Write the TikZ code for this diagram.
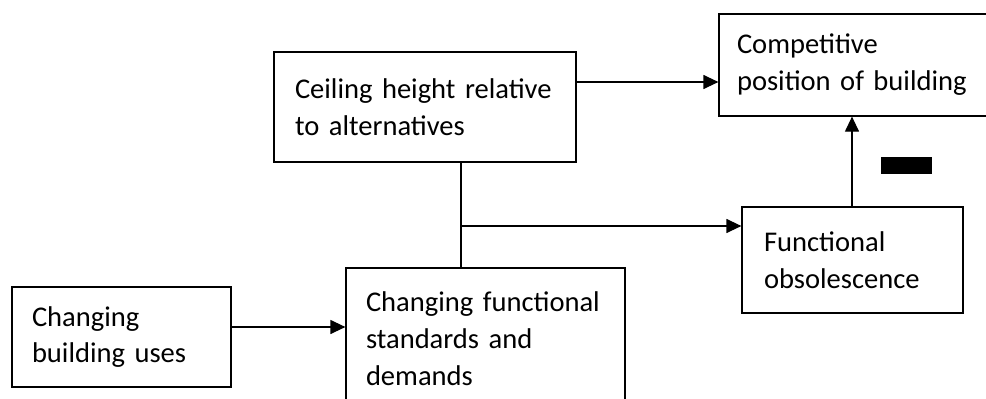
\documentclass[tikz,border=0pt]{standalone}
\usepackage{fontspec}
\setmainfont{Carlito}
\usepackage{tikz}
\usetikzlibrary{arrows.meta,positioning}

\tikzset{
  card/.style={draw=black,line width=0.7pt,align=left,inner ysep=0pt,
               font=\fontsize{16.25}{21}\selectfont},
  link/.style={line width=0.7pt,-{Triangle[length=0.3cm,width=0.28cm]}},
  plain/.style={line width=0.7pt}
}

\begin{document}
\begin{tikzpicture}
      \useasboundingbox (0,0) rectangle (19.72,7.96);
      \node[card,text width=5.20cm,inner xsep=0.42cm,minimum height=2.2cm] (ceil) at (8.50,5.82)
        {Ceiling height relative\\to alternatives};
      \node[card,text width=4.90cm,inner xsep=0.36cm,minimum height=2.04cm] (comp) at (17.19,6.66)
        {Competitive\\position of building};
      \node[card,text width=3.54cm,inner xsep=0.44cm,minimum height=2.12cm] (func) at (17.05,2.76)
        {Functional\\obsolescence};
      \node[card,text width=4.78cm,inner xsep=0.40cm,minimum height=2.84cm] (chstd) at (9.71,1.18)
        {Changing functional\\standards and\\demands};
      \node[card,text width=3.58cm,inner xsep=0.40cm,minimum height=2.0cm] (chuse) at (2.43,1.22)
        {Changing\\building uses};
      \node[fill=black,minimum width=1.02cm,minimum height=0.34cm,inner sep=0pt] (minus) at (18.13,4.65) {};
      \coordinate (jn) at (9.22,3.44);

      \draw[link] ([yshift=0.5cm]ceil.east) -- ([yshift=0.5cm]ceil.east -| comp.west);
      \draw[link] (func.north -| 17.04,0) -- (comp.south -| 17.04,0);
      \draw[plain] (ceil.south -| jn) -- (chstd.north -| jn);
      \draw[link] (jn) -- (jn -| func.west);
      \draw[link] ([yshift=0.2cm]chuse.east) -- ([yshift=0.2cm]chuse.east -| chstd.west);
    \end{tikzpicture}
\end{document}
